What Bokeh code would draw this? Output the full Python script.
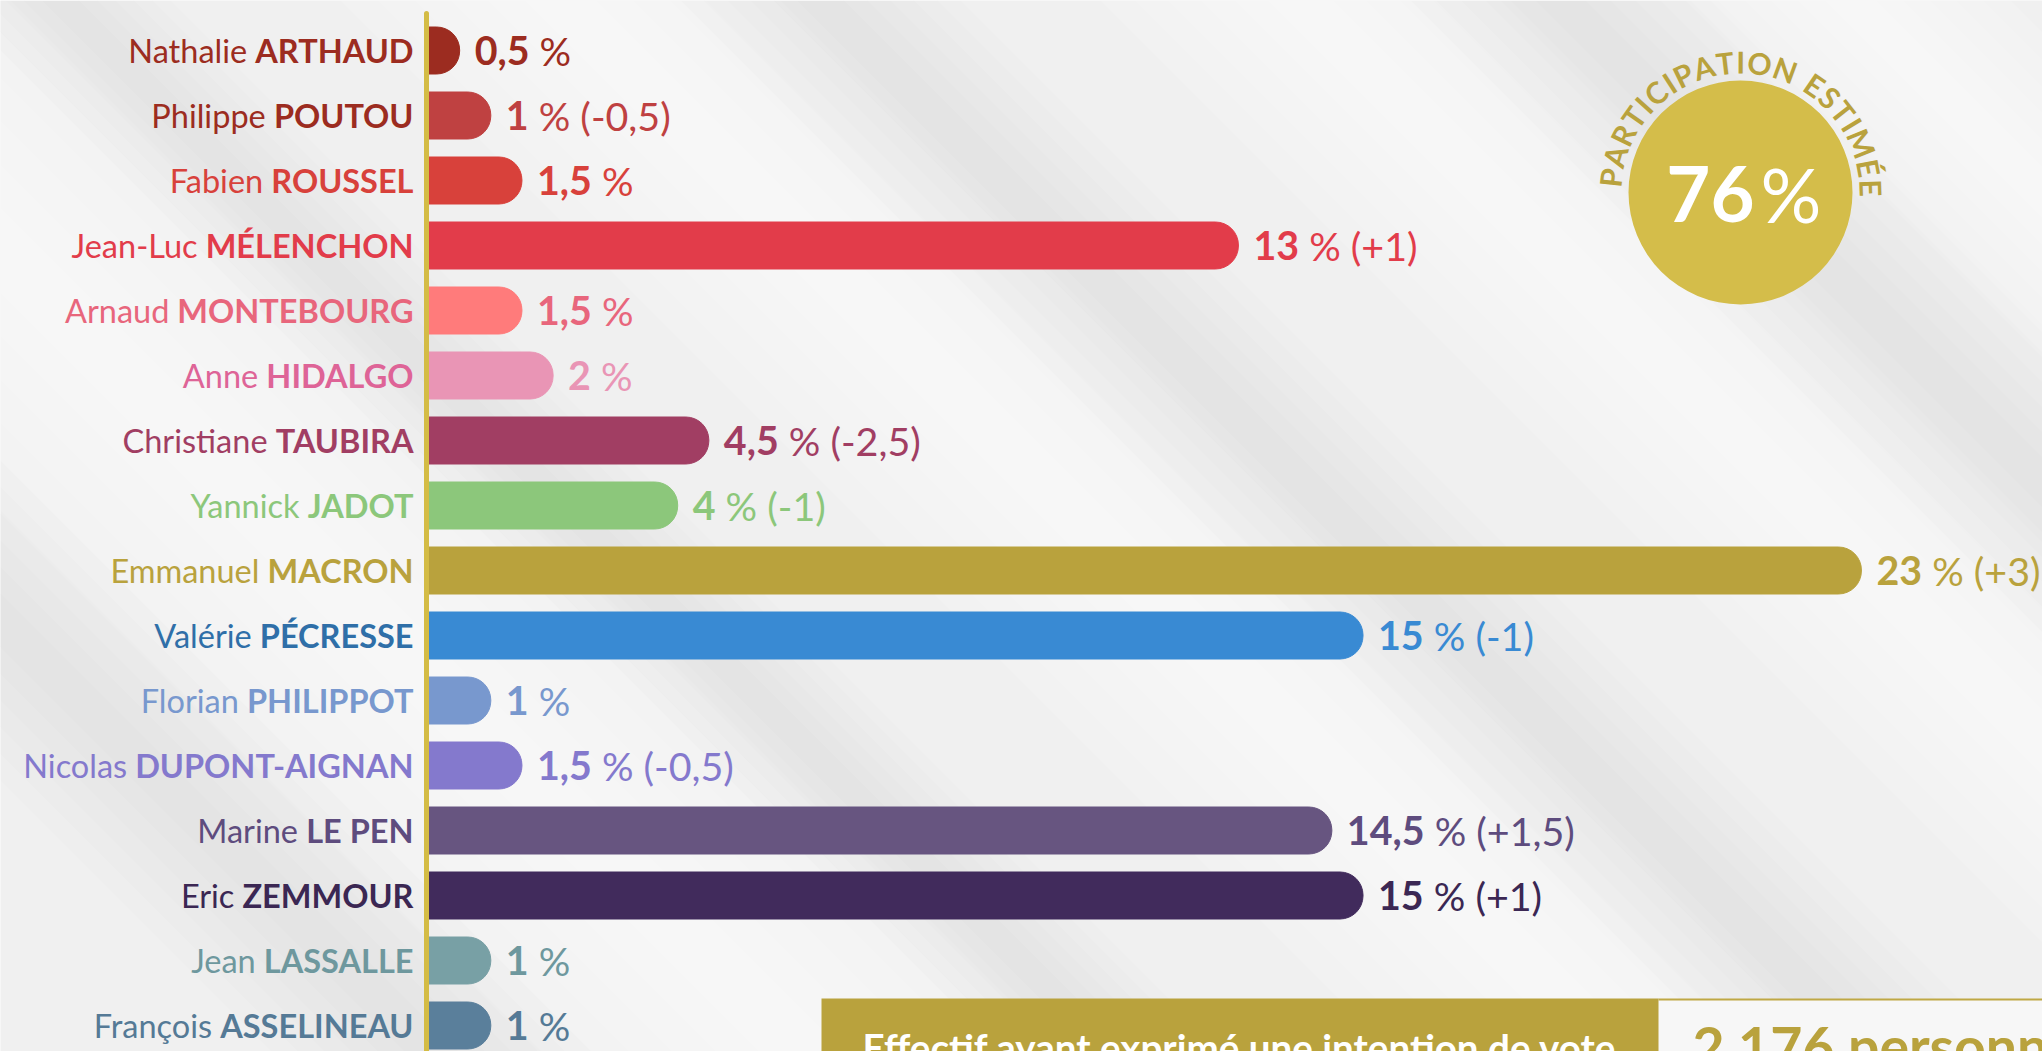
import glob, os, math, subprocess
from bokeh.plotting import figure
from bokeh.models import Range1d, ColumnDataSource
from bokeh.core.properties import value
from bokeh.embed import file_html
from bokeh.resources import INLINE

# ---------------- data ----------------
first_names = ["Nathalie", "Philippe", "Fabien", "Jean-Luc", "Arnaud", "Anne", "Christiane", "Yannick",
               "Emmanuel", "Valérie", "Florian", "Nicolas", "Marine", "Eric", "Jean", "François"]
last_names = ["ARTHAUD", "POUTOU", "ROUSSEL", "MÉLENCHON", "MONTEBOURG", "HIDALGO", "TAUBIRA", "JADOT",
              "MACRON", "PÉCRESSE", "PHILIPPOT", "DUPONT-AIGNAN", "LE PEN", "ZEMMOUR", "LASSALLE", "ASSELINEAU"]
scores = [0.5, 1, 1.5, 13, 1.5, 2, 4.5, 4, 23, 15, 1, 1.5, 14.5, 15, 1, 1]
score_labels = ["0,5", "1", "1,5", "13", "1,5", "2", "4,5", "4", "23", "15", "1", "1,5", "14,5", "15", "1", "1"]
changes = ["", "-0,5", "", "+1", "", "", "-2,5", "-1", "+3", "-1", "", "-0,5", "+1,5", "+1", "", ""]
bar_colors = ["#9C2C20", "#BF4141", "#D8413B", "#E23C4A", "#FF7B7B", "#E995B5", "#A13E63", "#8CC77B",
              "#B9A23D", "#398AD3", "#7898CE", "#8479CD", "#675580", "#412B5C", "#78A0A5", "#5A7F9B"]
name_colors = ["#9C2C20", "#9C2C20", "#D8413B", "#E23C4A", "#E8667C", "#DE6497", "#A13E63", "#8CC77B",
               "#B9A23D", "#2F6FA8", "#7898CE", "#8479CD", "#5E4C7E", "#3B2753", "#6E989E", "#557A96"]
value_colors = ["#9C2C20", "#BF4141", "#D8413B", "#E23C4A", "#E8667C", "#E995B5", "#A13E63", "#8CC77B",
                "#B9A23D", "#398AD3", "#7898CE", "#8479CD", "#5E4C7E", "#3B2753", "#6E989E", "#557A96"]
participation = "76"
participation_title = "PARTICIPATION ESTIMÉE"
footer_label = "Effectif ayant exprimé une intention de vote"
footer_value = "2 176 personnes"

FONT = "Lato"
GOLD = "#B9A23D"

# ---------------- text measuring ----------------
def find_font(fname, pattern):
    for d in ["/usr/share/fonts", "/usr/local/share/fonts",
              os.path.expanduser("~/.fonts"), os.path.expanduser("~/.local/share/fonts")]:
        hits = glob.glob(os.path.join(d, "**", fname), recursive=True)
        if hits:
            return hits[0]
    try:
        out = subprocess.run(["fc-match", "-f", "%{file}", pattern], capture_output=True,
                             text=True, timeout=5).stdout.strip()
        if out and os.path.exists(out):
            return out
    except Exception:
        pass
    return None

try:
    from PIL import ImageFont
    _FR = ImageFont.truetype(find_font("Lato-Regular.ttf", "Lato:regular"), 100)
    _FB = ImageFont.truetype(find_font("Lato-Bold.ttf", "Lato:bold"), 100)

    def tw(s, size, bold=False):
        return (_FB if bold else _FR).getlength(s) * size / 100.0
except Exception:
    def tw(s, size, bold=False):
        return len(s) * size * (0.6 if bold else 0.52)

def fit(target, parts):
    w = sum(tw(t, 100, b) for t, b in parts)
    return 100.0 * target / w

name_size = fit(285, [("Nathalie ", False), ("ARTHAUD", True)])
val_size = fit(96, [("0,5 ", True), ("%", False)])
CAPC = 0.36   # cap centre below cap top, in em

# ---------------- geometry ----------------
W, H = 2042, 1051
X0 = 428          # pixel where bars start
PX_PER_PCT = 62.3
ROW0, ROW_STEP = 50, 65.0

n = len(scores)
rows = list(range(n))

p = figure(width=W, height=H, output_backend="svg", toolbar_location=None,
           x_range=Range1d(-X0 / PX_PER_PCT, (W - X0) / PX_PER_PCT),
           y_range=Range1d((H - ROW0) / ROW_STEP, -ROW0 / ROW_STEP),
           x_axis_location=None, y_axis_location=None, min_border=0)
p.extra_x_ranges = {"px": Range1d(0, W)}
p.extra_y_ranges = {"px": Range1d(H, 0)}
p.grid.visible = False
p.outline_line_color = None
p.background_fill_color = "#F0F0F0"
p.border_fill_color = "#F0F0F0"

# ---------------- soft diagonal background ----------------
def soft_band(center, half, color, alpha, steps=6):
    for k in range(steps):
        hw = half * (k + 1) / steps
        xa, xb = center - hw, center + hw
        p.patch([xa, xb, xb + H, xa + H], [0, 0, H, H], color=color, alpha=alpha / steps,
                line_alpha=0, x_range_name="px", y_range_name="px")

for c, hw in [(-250, 260), (560, 220), (1300, 200), (1850, 160)]:
    soft_band(c, hw, "#FFFFFF", 0.75)
for c, hw in [(-620, 160), (60, 110), (820, 140), (1560, 150)]:
    soft_band(c, hw, "#D4D4D4", 0.45)

# ---------------- bars ----------------
src = ColumnDataSource(dict(y=rows, right=scores, color=bar_colors))
bar_h = 47 / ROW_STEP
try:
    p.hbar(y="y", left=0, right="right", height=bar_h, color="color", source=src,
           border_radius=(0, 23, 23, 0))
except Exception:
    r_data = 23.5 / PX_PER_PCT
    src.data["right2"] = [max(v - r_data, 0) for v in scores]
    p.hbar(y="y", left=0, right="right2", height=bar_h, color="color", source=src)
    p.scatter(x="right2", y="y", size=47, color="color", source=src)

# axis line
p.segment(x0=[426], y0=[13], x1=[426], y1=[H + 20], line_width=5, line_color="#D4BC45",
          line_cap="round", x_range_name="px", y_range_name="px")

# ---------------- name labels ----------------
name_src = ColumnDataSource(dict(
    x=[0] * n, y=rows,
    last=last_names, first=first_names, color=name_colors,
    off_last=[-15] * n,
    off_first=[-15 - tw(l, name_size, True) - tw(" ", name_size) for l in last_names],
))
p.text(x="x", y="y", text="last", x_offset="off_last", text_color="color", source=name_src,
       text_font=value(FONT), text_font_style="bold", text_font_size=f"{name_size:.1f}px",
       text_align="right", text_baseline="alphabetic")
p.text(x="x", y="y", text="first", x_offset="off_first", text_color="color", source=name_src,
       text_font=value(FONT), text_font_style="normal", text_font_size=f"{name_size:.1f}px",
       text_align="right", text_baseline="alphabetic")

# ---------------- value labels ----------------
rest = ["%" + (f" ({c})" if c else "") for c in changes]
val_src = ColumnDataSource(dict(
    x=scores, y=rows, bold=score_labels, rest=rest, color=value_colors,
    off_bold=[15] * n,
    off_rest=[15 + tw(s, val_size, True) + tw(" ", val_size) for s in score_labels],
))
p.text(x="x", y="y", text="bold", x_offset="off_bold", text_color="color", source=val_src,
       text_font=value(FONT), text_font_style="bold", text_font_size=f"{val_size:.1f}px",
       text_align="left", text_baseline="alphabetic")
p.text(x="x", y="y", text="rest", x_offset="off_rest", text_color="color", source=val_src,
       text_font=value(FONT), text_font_style="normal", text_font_size=f"{val_size:.1f}px",
       text_align="left", text_baseline="alphabetic")

# ---------------- participation badge ----------------
CX, CY, CR = 1740, 192, 112
p.scatter(x=[CX], y=[CY], size=2 * CR, marker="circle", color="#D4BD4A", line_alpha=0,
          x_range_name="px", y_range_name="px")
big = 76
p.text(x=[CX + 14], y=[193], text=[participation], text_color="white", text_font=value(FONT),
       text_font_style="bold", text_font_size=f"{big}px", text_align="right", text_baseline="alphabetic",
       x_range_name="px", y_range_name="px")
p.text(x=[CX + 20], y=[193], text=["%"], text_color="white", text_font=value(FONT),
       text_font_style="normal", text_font_size=f"{big}px", text_align="left", text_baseline="alphabetic",
       x_range_name="px", y_range_name="px")

arc_size = 30
R_MID = 131
chars = list(participation_title)
widths = [tw(ch, arc_size) + 2.5 for ch in chars]
centers = []
acc = 0
for w_ in widths:
    centers.append(acc + w_ / 2)
    acc += w_
a0, a1 = 173.5, 2.0
angs = [a0 + (c - centers[0]) / (centers[-1] - centers[0]) * (a1 - a0) for c in centers]
arc_x = [CX + R_MID * math.cos(math.radians(a)) for a in angs]
arc_y = [CY - R_MID * math.sin(math.radians(a)) for a in angs]
arc_rot = [math.radians(a - 90) for a in angs]
p.text(x=arc_x, y=arc_y, text=chars, angle=arc_rot, text_color=GOLD, text_font=value(FONT),
       text_font_style="bold", text_font_size=f"{arc_size}px", text_align="center",
       text_baseline="alphabetic", x_range_name="px", y_range_name="px")

# ---------------- footer ----------------
p.quad(left=[1658], right=[W + 10], top=[999], bottom=[H + 10], color="#F7F7F7", line_alpha=0,
       x_range_name="px", y_range_name="px")
p.segment(x0=[1658], y0=[999], x1=[W + 10], y1=[999], line_color="#BFA845", line_width=2,
          x_range_name="px", y_range_name="px")
p.quad(left=[821], right=[1658], top=[998], bottom=[H + 10], color=GOLD, line_alpha=0,
       x_range_name="px", y_range_name="px")
f_size = fit(753, [(footer_label, True)])
p.text(x=[862], y=[1033 + CAPC * f_size], text=[footer_label], text_color="white", text_font=value(FONT),
       text_font_style="bold", text_font_size=f"{f_size:.1f}px", text_align="left",
       text_baseline="alphabetic", x_range_name="px", y_range_name="px")
fv_size = fit(356, [("2 176 personn", True)])
p.text(x=[1692], y=[1025 + CAPC * fv_size], text=[footer_value], text_color=GOLD, text_font=value(FONT),
       text_font_style="bold", text_font_size=f"{fv_size:.1f}px", text_align="left",
       text_baseline="alphabetic", x_range_name="px", y_range_name="px")

open("out.html", "w").write(file_html(p, INLINE))
